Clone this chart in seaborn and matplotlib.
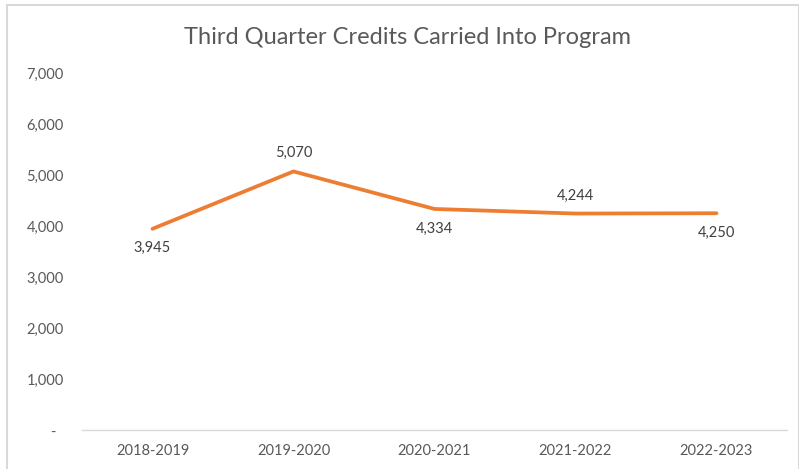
import pandas as pd
import seaborn as sns
import matplotlib.pyplot as plt
from matplotlib.patches import Rectangle

# chart data
years = ["2018-2019", "2019-2020", "2020-2021", "2021-2022", "2022-2023"]
credits = [3945, 5070, 4334, 4244, 4250]
label_above = [False, True, False, True, False]
y_ticks = [0, 1000, 2000, 3000, 4000, 5000, 6000, 7000]

df = pd.DataFrame({"year": years, "credits": credits})

sns.set_style("white")
plt.rcParams["font.family"] = ["Lato", "DejaVu Sans"]

fig = plt.figure(figsize=(7.99, 4.69), dpi=100)
ax = fig.add_axes([82 / 799, 39 / 469, 705 / 799, 357 / 469])

sns.lineplot(data=df, x="year", y="credits", color="#ED7D31", linewidth=2.7,
             sort=False, ax=ax)
ax.lines[0].set_solid_capstyle("round")
ax.lines[0].set_solid_joinstyle("round")

ax.set_xlim(-0.5, len(years) - 0.5)
ax.set_ylim(0, 7000)
ax.set_yticks(y_ticks)
ax.set_yticklabels(["-  " if v == 0 else f"{v:,}" for v in y_ticks])
ax.tick_params(axis="both", length=0, labelsize=10.5, labelcolor="#595959")
ax.tick_params(axis="y", pad=13)
ax.tick_params(axis="x", pad=10)
ax.set_xlabel("")
ax.set_ylabel("")

for s in ["top", "right", "left"]:
    ax.spines[s].set_visible(False)
ax.spines["bottom"].set_color("#d9d9d9")
ax.spines["bottom"].set_linewidth(1)

# data labels
for i, (v, up) in enumerate(zip(credits, label_above)):
    ax.annotate(f"{v:,}", (i, v), xytext=(0, 8 if up else -9),
                textcoords="offset points", ha="center",
                va="bottom" if up else "top", fontsize=10.5, color="#404040")

fig.text(407 / 799, 1 - 37 / 469, "Third Quarter Credits Carried Into Program",
         ha="center", va="center", fontsize=17, color="#595959")

# outer chart border
fig.patches.append(Rectangle((7 / 799, -0.01), 792 / 799, 1 - 5 / 469 + 0.01,
                             transform=fig.transFigure, fill=False,
                             edgecolor="#d9d9d9", linewidth=1.5))

fig.savefig("out.png", dpi=100)
